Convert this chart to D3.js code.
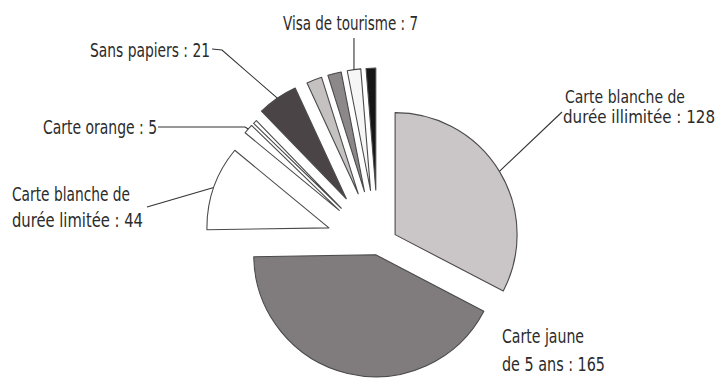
<!DOCTYPE html>
<html>
<head>
<meta charset="utf-8">
<script src="https://cdn.jsdelivr.net/npm/d3@7"></script>
<style>
  html, body { margin: 0; padding: 0; background: #ffffff; }
  svg { display: block; }
  text { font-family: "Liberation Sans Narrow", "DejaVu Sans Condensed", "Roboto Condensed", sans-serif; fill: #2b2b2b; }
</style>
</head>
<body>
<svg id="chart" width="717" height="381"></svg>
<script>
// ---- data ----
const categories = [
  "Carte blanche de durée illimitée",
  "Carte jaune de 5 ans",
  "Carte blanche de durée limitée",
  "Carte orange",
  "Autre (a)",
  "Sans papiers",
  "Autre (b)",
  "Autre (c)",
  "Visa de tourisme",
  "Autre (d)"
];
const values = [128, 165, 44, 5, 2, 21, 8, 7, 7, 5];
const labelled = [true, true, true, true, false, true, false, false, true, false];

// ---- styles / layout (not data) ----
const fills = ["#cac5c6", "#807b7c", "#ffffff", "#ffffff", "#ffffff", "#4b4447", "#c5c1c1", "#8c8788", "#f6f6f6", "#161616"];
const explode = [20, 10, 52, 52, 52, 56, 55, 55, 55, 55];
const cx = 378, cy = 245, R = 122;

// label layout: index -> text placement
const labelLayout = {
  0: { breakAt: 3, x: [565, 563], y: [103, 123], w: [120, 152], size: 17, from: [[562, 112]] },
  1: { breakAt: 2, x: [502, 502], y: [343, 371], w: [82, 103], size: 20, from: null },
  2: { breakAt: 3, x: [12, 12], y: [201, 227], w: [118, 131], size: 20, from: [[147, 207]] },
  3: { breakAt: 99, x: [43], y: [134], w: [114], size: 20, from: [[158, 127], [245, 127]] },
  5: { breakAt: 99, x: [90], y: [57], w: [120], size: 19, from: [[212, 49], [222, 50]] },
  8: { breakAt: 99, x: [283], y: [30], w: [135], size: 19, from: "vertical" }
};

const svg = d3.select("#chart");
const g = svg.append("g").attr("transform", `translate(${cx},${cy})`);

const data = categories.map((c, i) => ({ name: c, value: values[i], i }));
const pie = d3.pie().sort(null).value(d => d.value).startAngle(0).endAngle(2 * Math.PI);
const arcs = pie(data);
const arc = d3.arc().innerRadius(0).outerRadius(R);

function offset(a, d) {
  const m = (a.startAngle + a.endAngle) / 2;
  return [d * Math.sin(m), -d * Math.cos(m)];
}

g.selectAll("path.slice")
  .data(arcs)
  .join("path")
  .attr("class", "slice")
  .attr("transform", a => { const o = offset(a, explode[a.index]); return `translate(${o[0]},${o[1]})`; })
  .attr("d", arc)
  .attr("fill", (a) => fills[a.index])
  .attr("stroke", "#4a4a4a")
  .attr("stroke-width", 1.1)
  .attr("stroke-linejoin", "round");

// labels & leaders
const lab = svg.append("g");
arcs.forEach(a => {
  const i = a.index;
  if (!labelled[i]) return;
  const L = labelLayout[i];
  const full = `${categories[i]} : ${values[i]}`;
  const words = full.split(" ");
  const lines = L.breakAt < words.length
    ? [words.slice(0, L.breakAt).join(" "), words.slice(L.breakAt).join(" ")]
    : [full];
  lines.forEach((t, k) => {
    lab.append("text")
      .attr("x", L.x[k]).attr("y", L.y[k])
      .attr("font-size", L.size)
      .attr("textLength", L.w[k])
      .attr("lengthAdjust", "spacingAndGlyphs")
      .text(t);
  });
  if (L.from) {
    const m = (a.startAngle + a.endAngle) / 2;
    const o = offset(a, explode[i]);
    const ax = cx + o[0] + R * Math.sin(m);
    const ay = cy + o[1] - R * Math.cos(m);
    let pts;
    if (L.from === "vertical") pts = [[ax, 38], [ax, ay]];
    else pts = L.from.concat([[ax, ay]]);
    lab.append("path")
      .attr("d", d3.line()(pts))
      .attr("fill", "none")
      .attr("stroke", "#333")
      .attr("stroke-width", 1.1);
  }
});
</script>
</body>
</html>
